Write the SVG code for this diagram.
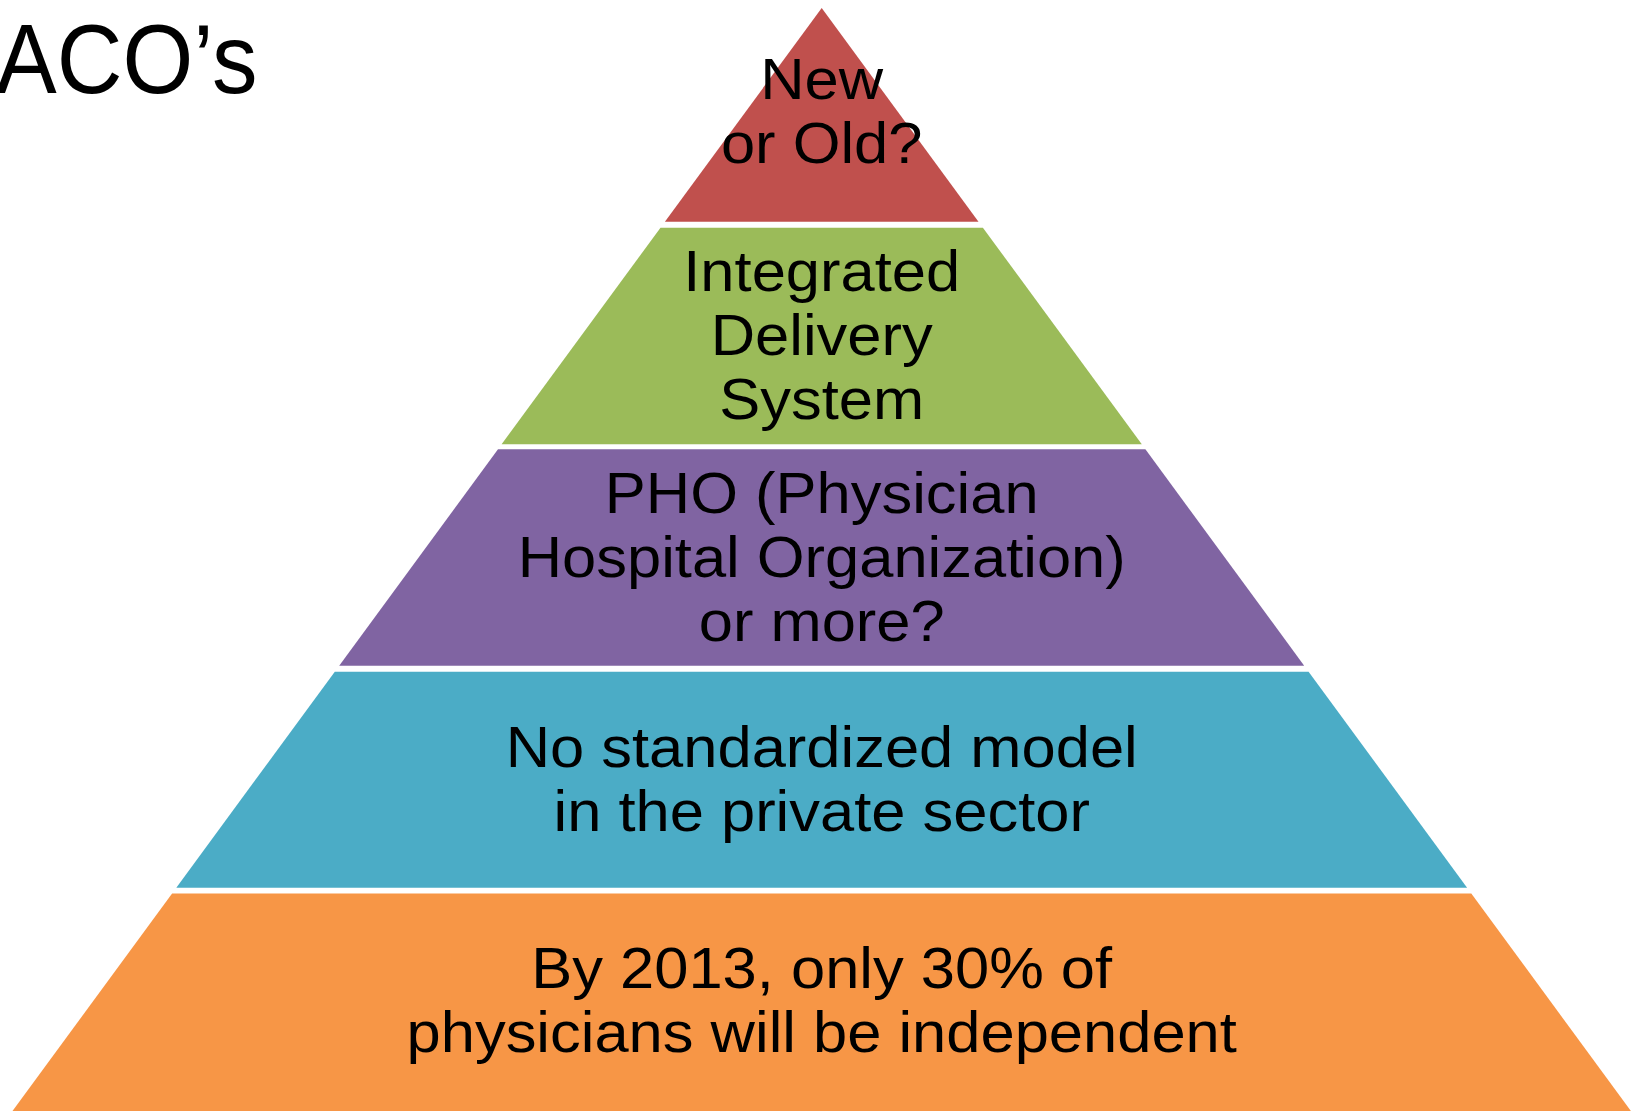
<svg xmlns="http://www.w3.org/2000/svg" width="1636" height="1111" viewBox="0 0 1636 1111">
<style>
text{font-family:"Liberation Sans",Arial,sans-serif;fill:#000}
.t{font-size:58px;text-anchor:middle}
.title{font-size:99px}
</style>
<rect width="1636" height="1111" fill="#fff"/>
<g id="title"><text class="title" transform="matrix(0.92,0,0,1,-4,93)">ACO’s</text></g>
<g id="band1">
<polygon points="821.7,8 978.5,221.7 664.9,221.7" fill="#C0504D"/>
<text class="t" transform="matrix(1.06,0,0,1,821.7,99)">New</text>
<text class="t" transform="matrix(1.06,0,0,1,821.7,163)">or Old?</text>
</g>
<g id="band2">
<polygon points="660.5,227.7 982.9,227.7 1141.8,444.3 501.6,444.3" fill="#9BBB59"/>
<text class="t" transform="matrix(1.06,0,0,1,821.7,291)">Integrated</text>
<text class="t" transform="matrix(1.06,0,0,1,821.7,355)">Delivery</text>
<text class="t" transform="matrix(1.06,0,0,1,821.7,419)">System</text>
</g>
<g id="band3">
<polygon points="498,449.3 1145.4,449.3 1304.2,665.7 339.2,665.7" fill="#8064A2"/>
<text class="t" transform="matrix(1.06,0,0,1,821.7,512.5)">PHO (Physician</text>
<text class="t" transform="matrix(1.06,0,0,1,821.7,576.5)">Hospital Organization)</text>
<text class="t" transform="matrix(1.06,0,0,1,821.7,640.5)">or more?</text>
</g>
<g id="band4">
<polygon points="334.8,671.7 1308.6,671.7 1467.1,887.7 176.3,887.7" fill="#4BACC6"/>
<text class="t" transform="matrix(1.06,0,0,1,821.7,767)">No standardized model</text>
<text class="t" transform="matrix(1.06,0,0,1,821.7,831)">in the private sector</text>
</g>
<g id="band5">
<polygon points="172.1,893.5 1471.3,893.5 1630.9,1111 12.5,1111" fill="#F79646"/>
<text class="t" transform="matrix(1.06,0,0,1,821.7,988)">By 2013, only 30% of</text>
<text class="t" transform="matrix(1.06,0,0,1,821.7,1052)">physicians will be independent</text>
</g>
<g id="connectors"/>
</svg>
